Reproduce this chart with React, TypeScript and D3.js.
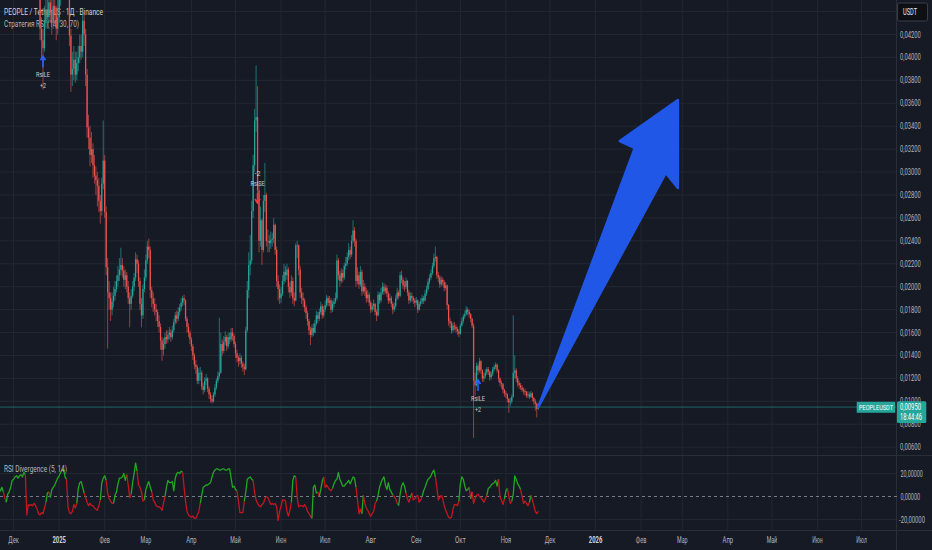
import React from 'react';
import * as d3 from 'd3';

// daily candles starting 2024-11-21, prices in 1e-5 USDT (open = previous close)
const FIRST_DAY = Date.UTC(2024, 10, 21);
const DAY_MS = 86400000;

const closes = [
  5200, 5600, 5900, 5700, 6100, 5800, 6000, 6400, 6200, 6600,
  7000, 7400, 7800, 8100, 7600, 7900, 7300, 7500, 6800, 6000,
  6300, 6100, 5800, 5900, 5500, 5200, 4900, 4700, 4250, 4150,
  4080, 4300, 4420, 4350, 4480, 4400, 4300, 4450, 4380, 4250,
  4350, 4500, 4650, 4800, 4900, 4750, 4850, 4600, 4190, 3850,
  3900, 3980, 3850, 3950, 4000, 4100, 4050, 4320, 4200, 3850,
  3390, 3300, 3150, 3200, 3060, 2970, 2930, 2880, 2750, 2660,
  2900, 3100, 2650, 2170, 1950, 1900, 1800, 1870, 1920, 1980,
  2050, 2100, 2150, 2190, 2140, 2060, 2100, 2000, 1900, 1850,
  1920, 2000, 2080, 2240, 2200, 2050, 1850, 1750, 1980, 2080,
  2230, 2350, 2320, 1970, 1900, 1850, 1800, 1780, 1700, 1650,
  1530, 1450, 1500, 1560, 1540, 1580, 1600, 1560, 1620, 1690,
  1750, 1720, 1780, 1820, 1860, 1900, 1880, 1720, 1650, 1600,
  1540, 1480, 1400, 1320, 1300, 1180, 1250, 1250, 1130, 1100,
  1180, 1200, 1110, 1060, 1020, 1000, 1060, 1120, 1180, 1220,
  1250, 1500, 1440, 1520, 1560, 1480, 1560, 1540, 1600, 1570,
  1500, 1420, 1380, 1350, 1380, 1330, 1300, 1280, 1620, 1970,
  2190, 2230, 2660, 3060, 3450, 3480, 2840, 2400, 2580, 2320,
  2750, 2800, 2400, 2400, 2380, 2410, 2420, 2540, 2320, 2050,
  1980, 1900, 1940, 2050, 2130, 2100, 2150, 2000, 1950, 2050,
  1900, 1880, 2360, 2360, 2150, 1950, 1900, 1880, 1820, 1770,
  1700, 1620, 1580, 1640, 1600, 1680, 1750, 1720, 1780, 1830,
  1750, 1800, 1840, 1900, 1860, 1880, 1800, 1850, 1870, 1900,
  2230, 2100, 2050, 2120, 2080, 2180, 2200, 2260, 2320, 2280,
  2400, 2490, 2400, 2050, 2100, 2020, 2130, 1960, 2000, 1960,
  1900, 1930, 1860, 1800, 1830, 1850, 1780, 1750, 1930, 1880,
  1950, 2000, 1960, 1990, 1940, 1880, 1900, 1850, 1800, 1830,
  1900, 1950, 1920, 2100, 2060, 2010, 2000, 2050, 1950, 1880,
  1920, 1900, 1880, 1860, 1880, 1800, 1850, 1870, 1900, 1880,
  1940, 1980, 2040, 2080, 2120, 2180, 2250, 2260, 2100, 2080,
  2020, 2060, 2040, 1990, 2010, 1840, 1700, 1680, 1620, 1660,
  1650, 1630, 1610, 1590, 1660, 1700, 1740, 1760, 1800, 1780,
  1760, 1720, 1660, 1180, 1140, 1310, 1270, 1350, 1270, 1200,
  1220, 1250, 1280, 1260, 1210, 1240, 1280, 1300, 1320, 1270,
  1200, 1160, 1150, 1100, 1070, 1060, 1020, 990, 1000, 1040,
  1250, 1270, 1200, 1160, 1140, 1120, 1100, 1090, 1080, 1050,
  1060, 1040, 1070, 1030, 1000, 980, 935, 950,
];

const highs = [
  5400, 5800, 6100, 6050, 6300, 6200, 6150, 6600, 6500, 6800,
  7200, 7700, 8000, 8500, 8200, 8100, 8000, 7700, 7600, 6900,
  6500, 6400, 6200, 6100, 6000, 5600, 5300, 5000, 4750, 4350,
  4250, 4450, 4600, 4550, 4650, 4600, 4500, 4650, 4600, 4450,
  4500, 4700, 4800, 5000, 5150, 5000, 5000, 4900, 4650, 4250,
  4050, 4100, 4050, 4050, 4100, 4200, 4200, 4380, 4400, 4250,
  3900, 3500, 3400, 3350, 3250, 3150, 3050, 3000, 2950, 2800,
  2950, 3450, 3150, 2700, 2250, 2050, 1950, 1950, 2000, 2050,
  2100, 2180, 2250, 2340, 2250, 2180, 2150, 2130, 2050, 1950,
  1980, 2050, 2120, 2300, 2280, 2230, 2080, 1900, 2020, 2150,
  2280, 2400, 2420, 2350, 2000, 1950, 1900, 1850, 1800, 1750,
  1680, 1560, 1550, 1600, 1620, 1620, 1650, 1630, 1660, 1720,
  1780, 1790, 1820, 1850, 1900, 1920, 1930, 1890, 1740, 1680,
  1620, 1560, 1500, 1420, 1360, 1320, 1290, 1300, 1270, 1160,
  1210, 1240, 1210, 1130, 1080, 1050, 1080, 1150, 1200, 1260,
  1730, 1600, 1540, 1570, 1610, 1580, 1600, 1600, 1640, 1640,
  1590, 1520, 1450, 1400, 1420, 1400, 1350, 1330, 1650, 2050,
  2300, 2450, 2750, 3150, 3550, 3930, 3750, 2900, 2700, 2600,
  2800, 3080, 2820, 2500, 2450, 2480, 2470, 2600, 2550, 2350,
  2100, 2020, 2000, 2100, 2200, 2180, 2200, 2170, 2040, 2100,
  2080, 1950, 2380, 2400, 2370, 2180, 1990, 1950, 1900, 1840,
  1790, 1720, 1650, 1670, 1680, 1710, 1790, 1780, 1810, 1870,
  1850, 1830, 1880, 1930, 1920, 1920, 1900, 1880, 1900, 1950,
  2280, 2250, 2140, 2160, 2150, 2210, 2260, 2300, 2380, 2350,
  2450, 2580, 2520, 2420, 2170, 2130, 2180, 2150, 2060, 2030,
  1990, 1970, 1950, 1880, 1860, 1890, 1860, 1800, 1960, 1950,
  1990, 2040, 2030, 2020, 2010, 1960, 1940, 1920, 1870, 1860,
  1930, 1990, 1970, 2130, 2140, 2080, 2050, 2080, 2060, 1970,
  1950, 1950, 1920, 1900, 1910, 1890, 1870, 1900, 1930, 1920,
  1970, 2010, 2070, 2110, 2150, 2210, 2290, 2350, 2270, 2130,
  2100, 2090, 2080, 2060, 2040, 2020, 1850, 1730, 1700, 1690,
  1690, 1670, 1650, 1630, 1680, 1730, 1760, 1790, 1830, 1820,
  1800, 1770, 1730, 1680, 1250, 1340, 1330, 1380, 1360, 1280,
  1250, 1280, 1300, 1300, 1270, 1260, 1300, 1320, 1340, 1330,
  1280, 1210, 1180, 1160, 1110, 1090, 1070, 1030, 1030, 1060,
  1750, 1400, 1290, 1220, 1180, 1160, 1140, 1120, 1110, 1090,
  1090, 1080, 1090, 1080, 1040, 1020, 990, 985,
];

const lows = [
  5000, 5150, 5500, 5550, 5650, 5700, 5750, 5950, 6100, 6150,
  6500, 6900, 7300, 7700, 7400, 7500, 7100, 7200, 6600, 5800,
  5900, 5900, 5600, 5700, 5400, 5000, 4800, 4580, 4150, 4000,
  3720, 4050, 4250, 4250, 4300, 4300, 4200, 4250, 4300, 4150,
  4200, 4300, 4450, 4600, 4700, 4650, 4650, 4550, 4100, 3700,
  3750, 3800, 3780, 3800, 3880, 3950, 3980, 4000, 4100, 3750,
  3300, 3200, 3050, 3080, 2950, 2900, 2800, 2700, 2650, 2550,
  2620, 2850, 2600, 2100, 1460, 1800, 1700, 1750, 1820, 1880,
  1950, 2000, 2050, 2100, 2080, 2000, 1980, 1950, 1850, 1645,
  1800, 1900, 1960, 2050, 2120, 2000, 1800, 1645, 1720, 1950,
  2050, 2200, 2250, 1900, 1820, 1780, 1750, 1700, 1650, 1600,
  1450, 1355, 1400, 1460, 1500, 1510, 1540, 1520, 1540, 1600,
  1670, 1680, 1700, 1750, 1790, 1830, 1840, 1700, 1600, 1560,
  1500, 1440, 1360, 1280, 1240, 1150, 1150, 1180, 1100, 1060,
  1080, 1140, 1080, 1020, 990, 980, 990, 1040, 1100, 1160,
  1200, 1240, 1400, 1420, 1490, 1440, 1460, 1500, 1520, 1530,
  1470, 1380, 1340, 1300, 1320, 1290, 1260, 1230, 1270, 1600,
  1900, 2100, 2200, 2600, 3000, 3350, 2750, 2300, 2350, 2190,
  2300, 2650, 2350, 2300, 2300, 2330, 2350, 2380, 2280, 2000,
  1880, 1850, 1860, 1920, 2020, 2040, 2060, 1950, 1900, 1920,
  1850, 1830, 1870, 2250, 2100, 1900, 1850, 1820, 1780, 1720,
  1660, 1580, 1490, 1560, 1570, 1590, 1660, 1680, 1700, 1760,
  1720, 1730, 1780, 1820, 1830, 1830, 1770, 1780, 1820, 1850,
  1880, 2060, 2000, 2030, 2040, 2060, 2150, 2180, 2230, 2240,
  2260, 2380, 2350, 2000, 2020, 1980, 2000, 1920, 1940, 1920,
  1860, 1870, 1830, 1770, 1780, 1800, 1750, 1700, 1740, 1850,
  1860, 1930, 1930, 1940, 1910, 1850, 1860, 1820, 1760, 1780,
  1810, 1880, 1890, 1910, 2030, 1980, 1960, 1980, 1920, 1850,
  1860, 1870, 1850, 1820, 1840, 1770, 1790, 1830, 1850, 1850,
  1870, 1920, 1960, 2020, 2060, 2100, 2160, 2220, 2070, 2040,
  1990, 2000, 2010, 1960, 1970, 1800, 1660, 1640, 1590, 1600,
  1620, 1600, 1580, 1560, 1580, 1650, 1680, 1720, 1750, 1750,
  1730, 1690, 1640, 680, 1050, 1130, 1230, 1250, 1240, 1170,
  1170, 1200, 1230, 1230, 1180, 1190, 1220, 1260, 1280, 1250,
  1170, 1130, 1110, 1070, 1040, 1030, 990, 900, 960, 980,
  1030, 1200, 1170, 1130, 1110, 1100, 1080, 1060, 1050, 1030,
  1030, 1020, 1030, 1000, 970, 920, 860, 925,
];

// RSI Divergence (5, 14), one value per candle
const rsiDiv = [
  3, 5, 8, 4, -1, -5, 2, 4, 8, 14,
  15, 17, 18, 16, 18, 19, 17, 21, 19, -16,
  -7, -8, -7, -8, -6, -8, -11, -15, -16, -14,
  -15, -10, -5, 3, 4, -1, 6, 8, 10, 13,
  16, 18, 21, 23, 24, 17, 15, -9, -14, -15,
  -13, -7, -10, -6, 7, 12, 13, 8, 3, -1,
  -5, -8, -6, -8, -8, -10, -11, -12, -8, -3,
  12, 16, 18, 14, 3, -2, -4, -6, -6, 1,
  4, 11, 16, 16, 17, 20, 14, 19, 10, -1,
  2, 12, 20, 29, 22, 10, 8, 4, -4, -3,
  6, 10, 13, 8, 4, -3, -5, -8, -9, -9,
  -10, -12, -6, 0, 8, 14, 12, 12, 13, 5,
  16, 20, 21, 20, 22, 21, 8, -4, -13, -16,
  -17, -18, -17, -19, -19, -16, -13, -6, 1, 8,
  9, 10, 10, 11, 12, 17, 21, 23, 24, 24,
  23, 23, 24, 24, 23, 23, 24, 24, 16, 8,
  9, 6, 5, -4, -14, -14, -14, -4, 4, 15,
  16, 17, 15, 14, 3, -3, -6, -8, -9, -7,
  -6, -2, 0, -1, -4, -7, -6, -7, -6, -9,
  -21, -13, -8, -3, -3, -4, -13, -17, -12, -5,
  14, 18, 17, -1, -9, -8, -8, -9, -7, -9,
  -13, -15, -17, -19, 8, 10, 3, 4, 0, 6,
  13, 17, 8, 10, 8, 6, 5, 7, 11, 14,
  15, 21, 15, 12, 9, 9, 11, 12, 14, 11,
  14, 17, 16, 8, -3, -15, -11, -15, 1, -6,
  -10, -12, -15, -17, -15, -13, -6, -4, 1, 8,
  12, 15, 17, 10, 6, 12, 6, 4, 1, 0,
  -2, -6, -8, 2, 9, 12, 9, 3, -2, -5,
  -1, 3, -3, -2, 0, 1, -5, -3, 0, 5,
  8, 12, 15, 16, 18, 21, 23, 17, 8, -3,
  -1, 1, -2, -8, -12, -15, -18, -19, -18, -11,
  -7, -7, -8, -4, 11, 17, 15, 9, 5, 6,
  8, -2, 4, -6, -2, 1, 2, 0, -1, -3,
  -5, -2, 1, 7, 8, 10, 11, 12, 14, 9,
  15, -1, -3, -7, -2, 5, 7, 0, -6, -4,
  2, 18, 15, 11, 9, 6, 0, -6, -4, -6,
  -8, -5, 1, -3, -8, -13, -15, -13,
];

// grid rows; the top one sits under the currency box and gets no label
const priceTicks = [
  0.006, 0.008, 0.01, 0.012, 0.014, 0.016, 0.018, 0.02, 0.022, 0.024,
  0.026, 0.028, 0.03, 0.032, 0.034, 0.036, 0.038, 0.04, 0.042, 0.044,
];
const priceLabels = [
  0.006, 0.008, 0.01, 0.012, 0.014, 0.016, 0.018, 0.02, 0.022, 0.024,
  0.026, 0.028, 0.03, 0.032, 0.034, 0.036, 0.038, 0.04, 0.042,
];
const rsiTicks = [20, 0, -20];
const monthNames = ['Янв', 'Фев', 'Мар', 'Апр', 'Май', 'Июн', 'Июл', 'Авг', 'Сен', 'Окт', 'Ноя', 'Дек'];

// strategy fills
const markers = [
  { date: '2024-12-21T00:00Z', price: 0.0401, dir: 'up', name: 'RsiLE', qty: '+2' },
  { date: '2025-05-16T00:00Z', price: 0.0273, dir: 'down', name: 'RsiSE', qty: '-2' },
  { date: '2025-10-13T00:00Z', price: 0.01186, dir: 'up', name: 'RsiLE', qty: '+2' },
];

// hand-drawn arrow, in date / price space
const arrowPoints: [string, number][] = [
  ['2025-11-23T00:00Z', 0.0095],
  ['2026-01-27T17:00Z', 0.0321],
  ['2026-01-17T12:00Z', 0.03271],
  ['2026-02-26T00:00Z', 0.03629],
  ['2026-02-26T00:00Z', 0.02861],
  ['2026-02-17T19:00Z', 0.02992],
];

const W = 932;
const H = 550;
const AXIS_X = 897;
const PANE_Y = 455;
const TIME_Y = 530;

const BG = '#161a25';
const GRID = '#232733';
const BORDER = '#2a2e39';
const TEXT = '#b2b5be';
const UP = '#26a69a';
const DOWN = '#ef5350';

const fmt = (v: number, digits: number) => v.toFixed(digits).replace('.', ',');

function Txt({ x, y, w, children, size = 9, fill = TEXT, anchor = 'start', weight = 400 }: any) {
  return (
    <text
      x={x}
      y={y}
      textLength={w}
      lengthAdjust="spacingAndGlyphs"
      fontSize={size}
      fill={fill}
      textAnchor={anchor}
      fontWeight={weight}
      dominantBaseline="central"
      fontFamily="Roboto, 'Noto Sans', sans-serif"
    >
      {children}
    </text>
  );
}

export default function App() {
  const x = d3
    .scaleUtc()
    .domain([Date.UTC(2024, 11, 1), Date.UTC(2025, 11, 1)])
    .range([13.6, 550]);
  const y = d3.scaleLinear().domain([0.006, 0.042]).range([447.2, 34.5]);
  const yr = d3.scaleLinear().domain([-20, 20]).range([519.5, 473.5]);

  const candles = closes.map((c, i) => {
    const o = i === 0 ? c : closes[i - 1];
    return {
      date: new Date(FIRST_DAY + i * DAY_MS),
      o: o / 1e5,
      c: c / 1e5,
      h: Math.max(highs[i], o, c) / 1e5,
      l: Math.min(lows[i], o, c) / 1e5,
    };
  });
  const last = candles[candles.length - 1];
  const lastColor = last.c >= last.o ? UP : DOWN;

  const months = d3.utcMonth.range(new Date(Date.UTC(2024, 11, 1)), new Date(Date.UTC(2026, 7, 1)));

  // RSI line segments, green while the rise holds, red after a drop
  let green = rsiDiv[0] > 0;
  const rsiColors = rsiDiv.map((v, i) => {
    const prev = i > 0 ? rsiDiv[i - 1] : v;
    if (v <= 0) green = false;
    else if (!green && v - prev > 3) green = true;
    else if (green && prev - v > 8) green = false;
    return green ? '#22a722' : '#c3161f';
  });
  const rsiPts = rsiDiv.map((v, i) => [x(candles[i].date), yr(v)] as [number, number]);
  const runs: { color: string; pts: [number, number][] }[] = [];
  for (let i = 1; i < rsiPts.length; i++) {
    const col = rsiColors[i];
    const run = runs[runs.length - 1];
    if (run && run.color === col) run.pts.push(rsiPts[i]);
    else runs.push({ color: col, pts: [rsiPts[i - 1], rsiPts[i]] });
  }
  const line = d3.line();

  const arrowPath =
    (d3.line()(arrowPoints.map(([d, p]) => [x(new Date(d)), y(p)] as [number, number])) ?? '') + 'Z';

  const bodyW = 1.25;

  return (
    <div style={{ position: 'absolute', left: 0, top: 0 }}>
      <svg width={W} height={H} style={{ display: 'block' }}>
        <defs>
          <clipPath id="pricePane">
            <rect x={0} y={0} width={AXIS_X} height={PANE_Y} />
          </clipPath>
          <clipPath id="rsiPane">
            <rect x={0} y={PANE_Y + 1} width={AXIS_X} height={TIME_Y - PANE_Y - 1} />
          </clipPath>
        </defs>
        <rect width={W} height={H} fill={BG} />

        {/* grid */}
        {priceTicks.map((t) => (
          <line key={'hg' + t} x1={0} x2={AXIS_X} y1={y(t)} y2={y(t)} stroke={GRID} strokeWidth={1} />
        ))}
        {[20, -20].map((t) => (
          <line key={'rg' + t} x1={0} x2={AXIS_X} y1={yr(t)} y2={yr(t)} stroke={GRID} strokeWidth={1} />
        ))}
        {months.map((m) => (
          <line key={'vg' + +m} x1={x(m)} x2={x(m)} y1={0} y2={TIME_Y} stroke={GRID} strokeWidth={1} />
        ))}

        {/* legend */}
        <Txt x={4} y={11.8} w={99} fill="#d1d4dc">
          PEOPLE / TetherUS · 1Д · Binance
        </Txt>
        <Txt x={4} y={24} w={75}>
          Стратегия RSI (14, 30, 70)
        </Txt>

        {/* candles */}
        <g clipPath="url(#pricePane)">
          {candles.map((d, i) => {
            const cx = x(d.date);
            const col = d.c >= d.o ? UP : DOWN;
            const top = y(Math.max(d.o, d.c));
            const bh = Math.max(0.8, Math.abs(y(d.o) - y(d.c)));
            return (
              <g key={i}>
                <line x1={cx} x2={cx} y1={y(d.h)} y2={y(d.l)} stroke={col} strokeWidth={0.9} strokeOpacity={0.7} />
                <rect x={cx - bodyW / 2} y={top} width={bodyW} height={bh} fill={col} />
              </g>
            );
          })}

          {/* strategy markers */}
          {markers.map((m, i) => {
            const mx = x(new Date(m.date));
            const my = y(m.price);
            const up = m.dir === 'up';
            const col = up ? '#2962ff' : '#f23645';
            const a1 = up ? my + 11 : my - 10;
            const head = up
              ? `M${mx - 2.5},${my + 4} L${mx},${my} L${mx + 2.5},${my + 4}`
              : `M${mx - 2.5},${my - 4} L${mx},${my} L${mx + 2.5},${my - 4}`;
            const nameY = up ? my + 18 : my - 20;
            const qtyY = up ? my + 29 : my - 30;
            return (
              <g key={'mk' + i}>
                <line x1={mx} x2={mx} y1={my} y2={a1} stroke={col} strokeWidth={1.6} />
                <path d={head} fill="none" stroke={col} strokeWidth={1.6} />
                <Txt x={mx} y={nameY} w={14} size={8} anchor="middle" fill="#c9ccd4">
                  {m.name}
                </Txt>
                <Txt x={mx} y={qtyY} w={6} size={8} anchor="middle" fill="#c9ccd4">
                  {m.qty}
                </Txt>
              </g>
            );
          })}
        </g>

        {/* last price line */}
        <line
          x1={0}
          x2={AXIS_X}
          y1={y(last.c)}
          y2={y(last.c)}
          stroke={lastColor}
          strokeOpacity={0.55}
          strokeWidth={1}
        />

        {/* arrow annotation */}
        <path d={arrowPath} fill="#2157e6" stroke="#2157e6" strokeWidth={2.5} strokeLinejoin="round" />

        {/* pane separators */}
        <line x1={0} x2={W} y1={PANE_Y + 0.5} y2={PANE_Y + 0.5} stroke={BORDER} strokeWidth={1} />
        <line x1={0} x2={W} y1={TIME_Y + 0.5} y2={TIME_Y + 0.5} stroke={BORDER} strokeWidth={1} />
        <line x1={AXIS_X - 0.5} x2={AXIS_X - 0.5} y1={0} y2={H} stroke={BORDER} strokeWidth={1} />

        {/* RSI pane */}
        <line
          x1={0}
          x2={AXIS_X}
          y1={yr(0)}
          y2={yr(0)}
          stroke="#787b86"
          strokeWidth={1}
          strokeDasharray="3,3"
        />
        <g clipPath="url(#rsiPane)">
          {runs.map((r, i) => (
            <path key={'rs' + i} d={line(r.pts) ?? ''} fill="none" stroke={r.color} strokeWidth={1.3} strokeLinejoin="round" />
          ))}
        </g>
        <Txt x={4} y={468.5} w={63}>
          RSI Divergence (5, 14)
        </Txt>

        {/* price axis */}
        {priceLabels.map((t) => (
          <Txt key={'pt' + t} x={900} y={y(t)} w={20.7}>
            {fmt(t, 5)}
          </Txt>
        ))}
        {rsiTicks.map((t) => {
          const s = fmt(t, 5);
          return (
            <Txt key={'rt' + t} x={t < 0 ? 899 : 900.5} y={yr(t)} w={t < 0 ? 26 : s.length * 2.8}>
              {s}
            </Txt>
          );
        })}

        {/* USDT currency box */}
        <rect x={897.5} y={3} width={30} height={18} rx={2} fill="#0e0f13" stroke="#3a3e4a" strokeWidth={1} />
        <Txt x={903} y={12} w={14} fill="#e6e8ee">
          USDT
        </Txt>

        {/* last price labels */}
        <rect x={856.7} y={y(last.c) - 5.3} width={38.5} height={11} fill={lastColor} />
        <Txt x={859} y={y(last.c) + 0.3} w={34} size={8} fill="#ffffff">
          PEOPLEUSDT
        </Txt>
        <rect x={897} y={y(last.c) - 5.8} width={29.3} height={21.6} rx={1.5} fill={lastColor} />
        <Txt x={900} y={y(last.c)} w={21} fill="#ffffff">
          {fmt(last.c, 5)}
        </Txt>
        <Txt x={900} y={y(last.c) + 10.4} w={22} fill="#ffffff">
          18:44:46
        </Txt>

        {/* time axis */}
        {months.map((m) => {
          const mo = m.getUTCMonth();
          const label = mo === 0 ? String(m.getUTCFullYear()) : monthNames[mo];
          return (
            <Txt
              key={'tl' + +m}
              x={x(m)}
              y={540.3}
              w={mo === 0 ? 13.5 : 10.5}
              anchor="middle"
              fill={mo === 0 ? '#d1d4dc' : TEXT}
              weight={mo === 0 ? 700 : 400}
            >
              {label}
            </Txt>
          );
        })}
      </svg>
    </div>
  );
}
